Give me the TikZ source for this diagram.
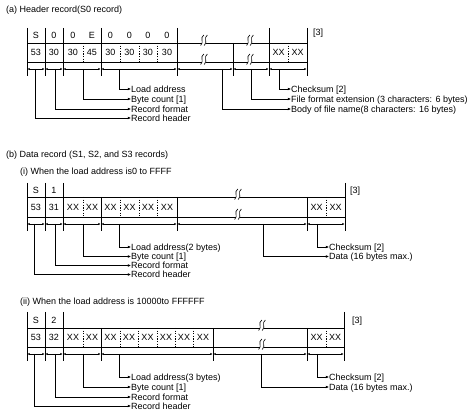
\documentclass[tikz,border=0pt]{standalone}
\usepackage{fontspec}
\setmainfont{Liberation Sans}
\usetikzlibrary{arrows.meta}
\newcommand\fsz{\fontsize{9}{10}\selectfont}
\tikzset{
  frame/.style={line width=0.75pt},
  sub/.style={line width=0.75pt, dash pattern=on 1.3pt off 1.3pt},
  dimln/.style={line width=0.6pt, {Latex[length=2.2pt,width=2.2pt]}-{Latex[length=2.2pt,width=2.2pt]}},
  ldr/.style={line width=0.6pt, -{Latex[length=3.2pt,width=2.8pt]}},
  lbl/.style={anchor=west, inner sep=0pt, text height=6.4pt, text depth=0pt, font=\fsz},
  cell/.style={inner sep=0pt, font=\fsz},
  ttl/.style={anchor=west, inner sep=0pt, font=\fsz},
  brk/.pic={
    \fill[white] (-1.7,-1.5) rectangle (1.7,1.5);
    \draw[line width=0.65pt] (-0.2,-8) .. controls (-4.6,-5) and (0.6,-1) .. (-3.4,2.5);
    \draw[line width=0.65pt] (3.4,-8) .. controls (-1,-5) and (4.2,-1) .. (0.2,2.5);
  }
}
\begin{document}
\begin{tikzpicture}[x=1pt,y=-1pt]
\useasboundingbox (0,0) rectangle (474,419);

% ================= (a) =================
\node[ttl] (ta) at (6,10) {(a) Header record(S0 record)};
\draw[frame] (27,43) -- (307,43) (27,62) -- (307,62);
\foreach \x in {27,45,63,101,177,269,307} \draw[frame] (\x,28) -- (\x,76);
\draw[frame] (233,43) -- (233,76);
\foreach \x in {83,120,139,157,288} \draw[sub] (\x,43) -- (\x,62);
\foreach \x in {204,250} { \pic at (\x,43) {brk}; \pic at (\x,62) {brk}; }
\foreach \a/\b in {27/45,45/63,63/101,101/177,177/233,233/269,269/307}
  \draw[dimln] (\a+0.5,69) -- (\b-0.5,69);
\foreach \x/\t [count=\i] in {36/S,54/0,73/0,92/E,110.5/0,129.5/0,148/0,167/0}
  \node[cell] (ah\i) at (\x,35.5) {\t};
\foreach \x/\t [count=\i] in {36/53,54/30,73/30,92/45,110.5/30,129.5/30,148/30,167/30,278.5/XX,297.5/XX}
  \node[cell] (ad\i) at (\x,52.5) {\t};
\node[ttl] (a3) at (313,33.5) {[3]};
\coordinate (ac1) at (35,69);  \node[lbl] (al1) at (131,118) {Record header};
\coordinate (ac2) at (55,69);  \node[lbl] (al2) at (131,109) {Record format};
\coordinate (ac3) at (83,69);  \node[lbl] (al3) at (131,99) {Byte count [1]};
\coordinate (ac4) at (119,69); \node[lbl] (al4) at (131,89) {Load address};
\coordinate (ac5) at (222,69); \node[lbl] (al5) at (291,109) {Body of file name(8 characters: 16 bytes)};
\coordinate (ac6) at (251,69); \node[lbl] (al6) at (291,99) {File format extension (3 characters: 6 bytes)};
\coordinate (ac7) at (279,69); \node[lbl] (al7) at (291,89) {Checksum [2]};
\foreach \i in {1,...,7} \draw[ldr] (ac\i) |- (al\i.west);

% ================= (b) =================
\node[ttl] (tb) at (6,155) {(b) Data record (S1, S2, and S3 records)};

% ---- (i) ----
\node[ttl] (ti) at (20,172) {(i) When the load address is0 to FFFF};
\draw[frame] (27,197) -- (345,197) (27,217) -- (345,217);
\foreach \x in {27,45,63,345} \draw[frame] (\x,183) -- (\x,231);
\foreach \x in {101,177,307} \draw[frame] (\x,197) -- (\x,231);
\foreach \x in {83,120,139,157,326} \draw[sub] (\x,197) -- (\x,217);
\pic at (238,197) {brk}; \pic at (238,217) {brk};
\foreach \a/\b in {27/45,45/63,63/101,101/177,177/307,307/345}
  \draw[dimln] (\a+0.5,224) -- (\b-0.5,224);
\foreach \x/\t [count=\i] in {36/S,54/1}
  \node[cell] (bh\i) at (\x,190) {\t};
\foreach \x/\t [count=\i] in {36/53,54/31,73/XX,92/XX,110.5/XX,129.5/XX,148/XX,167/XX,316.5/XX,335.5/XX}
  \node[cell] (bd\i) at (\x,207) {\t};
\node[ttl] (b3) at (350,191) {[3]};
\coordinate (bc1) at (34,224);  \node[lbl] (bl1) at (131,274.5) {Record header};
\coordinate (bc2) at (55,224);  \node[lbl] (bl2) at (131,265.5) {Record format};
\coordinate (bc3) at (83,224);  \node[lbl] (bl3) at (131,256.5) {Byte count [1]};
\coordinate (bc4) at (119,224); \node[lbl] (bl4) at (131,247) {Load address(2 bytes)};
\coordinate (bc5) at (263,224); \node[lbl] (bl5) at (329,256.5) {Data (16 bytes max.)};
\coordinate (bc6) at (317,224); \node[lbl] (bl6) at (329,247) {Checksum [2]};
\foreach \i in {1,...,6} \draw[ldr] (bc\i) |- (bl\i.west);

% ---- (ii) ----
\node[ttl] (tii) at (20,302) {(ii) When the load address is 10000to FFFFFF};
\draw[frame] (27,328) -- (344,328) (27,347) -- (344,347);
\foreach \x in {27,45,63,344} \draw[frame] (\x,312) -- (\x,361);
\foreach \x in {101,213,307} \draw[frame] (\x,328) -- (\x,361);
\foreach \x in {83,120,138,157,175,193,326} \draw[sub] (\x,328) -- (\x,347);
\pic at (262,328) {brk}; \pic at (262,347) {brk};
\foreach \a/\b in {27/45,45/63,63/101,101/213,213/307,307/344}
  \draw[dimln] (\a+0.5,354) -- (\b-0.5,354);
\foreach \x/\t [count=\i] in {36/S,54/2}
  \node[cell] (ch\i) at (\x,320) {\t};
\foreach \x/\t [count=\i] in {36/53,54/32,73/XX,92/XX,110.5/XX,129/XX,147.5/XX,166/XX,184/XX,203/XX,316.5/XX,335/XX}
  \node[cell] (cd\i) at (\x,337.5) {\t};
\node[ttl] (c3) at (352,321) {[3]};
\coordinate (cc1) at (34,354);  \node[lbl] (cl1) at (131,406) {Record header};
\coordinate (cc2) at (55,354);  \node[lbl] (cl2) at (131,397) {Record format};
\coordinate (cc3) at (83,354);  \node[lbl] (cl3) at (131,387) {Byte count [1]};
\coordinate (cc4) at (119,354); \node[lbl] (cl4) at (131,377) {Load address(3 bytes)};
\coordinate (cc5) at (261,354); \node[lbl] (cl5) at (329,387) {Data (16 bytes max.)};
\coordinate (cc6) at (317,354); \node[lbl] (cl6) at (329,377) {Checksum [2]};
\foreach \i in {1,...,6} \draw[ldr] (cc\i) |- (cl\i.west);
\end{tikzpicture}
\end{document}
